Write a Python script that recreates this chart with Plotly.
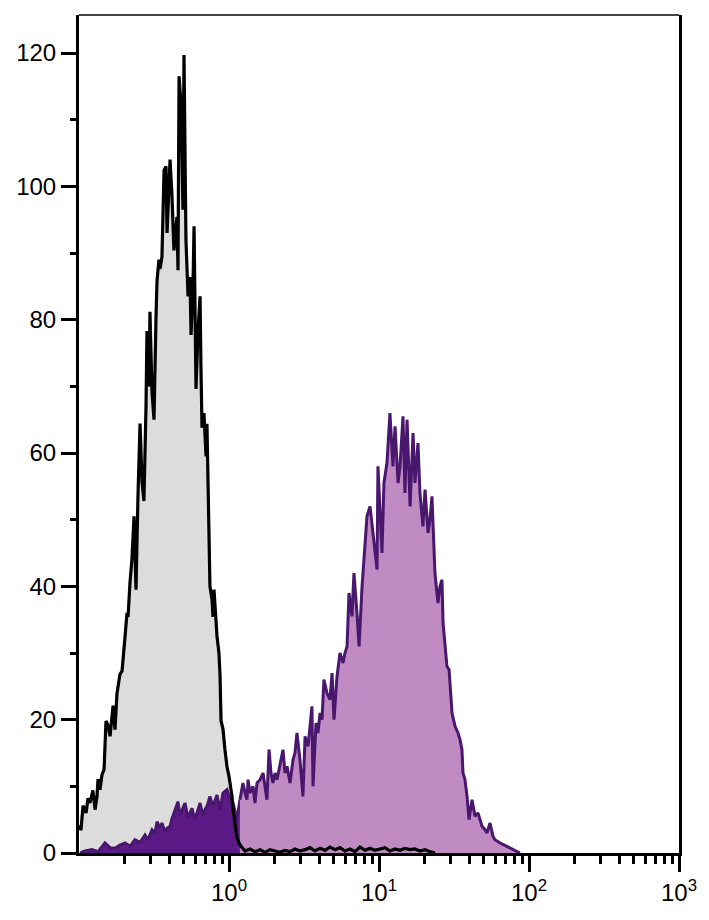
import numpy as np
import plotly.graph_objects as go

# ---- data (x in log10 decades, y = counts) ----
grey_logx = [-0.993, -0.987, -0.973, -0.953, -0.940, -0.927, -0.907, -0.893, -0.880, -0.873,
             -0.860, -0.847, -0.833, -0.827, -0.820, -0.807, -0.793, -0.773, -0.760, -0.747,
             -0.727, -0.713, -0.700, -0.693, -0.680, -0.673, -0.660, -0.647, -0.633, -0.620,
             -0.607, -0.593, -0.580, -0.567, -0.553, -0.547, -0.533, -0.527, -0.513, -0.500,
             -0.487, -0.480, -0.467, -0.460, -0.447, -0.433, -0.420, -0.413, -0.393, -0.380,
             -0.367, -0.347, -0.340, -0.333, -0.320, -0.307, -0.300, -0.287, -0.273, -0.260,
             -0.253, -0.240, -0.233, -0.220, -0.207, -0.193, -0.187, -0.180, -0.167, -0.160,
             -0.153, -0.147, -0.140, -0.133, -0.127, -0.113, -0.107, -0.100, -0.087, -0.080,
             -0.067, -0.060, -0.053, -0.040, -0.027, -0.013, 0.000, 0.007, 0.020, 0.027,
             0.040, 0.053, 0.067, 0.080,
             0.107, 0.140, 0.173, 0.207, 0.240, 0.273, 0.307, 0.340, 0.373, 0.407,
             0.440, 0.473, 0.507, 0.540, 0.573, 0.607, 0.640, 0.673, 0.707, 0.740,
             0.773, 0.807, 0.840, 0.873, 0.907, 0.940, 0.973, 1.007, 1.040, 1.073,
             1.107, 1.140, 1.173, 1.207, 1.240, 1.273, 1.307, 1.340, 1.373]
grey_counts = [4.2, 3.4, 7.1, 6.0, 8.2, 7.5, 9.4, 6.5, 8.5, 11.1,
               9.5, 11.7, 12.5, 15.7, 19.8, 19.2, 17.5, 22.1, 18.5, 23.9,
               26.8, 27.3, 30.0, 32.5, 36.0, 35.4, 40.6, 44.1, 50.5, 39.5,
               53.4, 64.4, 55.7, 52.8, 67.3, 78.3, 70.0, 81.2, 69.0, 65.0,
               80.0, 85.8, 89.0, 87.6, 89.4, 102.4, 103.0, 93.0, 104.0, 98.5,
               90.4, 95.4, 87.4, 116.5, 112.5, 96.5, 119.7, 92.0, 83.5, 86.4,
               77.7, 85.2, 94.0, 69.6, 78.0, 83.5, 73.0, 63.8, 66.0, 63.2,
               59.5, 64.4, 55.0, 46.0, 40.0, 38.0, 35.4, 39.5, 34.0, 32.5,
               30.0, 26.8, 19.8, 18.6, 15.5, 12.9, 11.5, 10.5, 8.5, 6.5,
               4.5, 2.4, 1.5, 1.0,
               0.3, 0.6, 0.2, 0.5, 0.1, 0.5, 0.3, 0.1, 0.4, 0.2,
               0.6, 0.3, 0.5, 0.8, 0.3, 0.7, 0.4, 0.9, 0.5, 0.8,
               0.3, 0.6, 0.2, 0.9, 0.4, 0.7, 0.4, 0.6, 0.8, 0.3,
               0.6, 0.4, 0.7, 0.5, 0.6, 0.3, 0.5, 0.2, 0.0]

purple_logx = [-0.993, -0.960, -0.913, -0.873, -0.827, -0.793, -0.760, -0.727, -0.693, -0.660,
               -0.627, -0.593, -0.560, -0.540, -0.513, -0.493, -0.480, -0.460, -0.447, -0.427,
               -0.413, -0.393, -0.380, -0.360, -0.340, -0.327, -0.313, -0.293, -0.273, -0.260,
               -0.247, -0.227, -0.213, -0.193, -0.173, -0.160, -0.147, -0.127, -0.107, -0.093,
               -0.080, -0.060, -0.040, -0.013, 0.007, 0.027, 0.053, 0.073,
               0.093, 0.107, 0.120, 0.127, 0.140, 0.160, 0.173, 0.187, 0.207, 0.227,
               0.240, 0.253, 0.267, 0.280, 0.293, 0.307, 0.320, 0.340, 0.360, 0.373,
               0.387, 0.407, 0.427, 0.440, 0.453, 0.473, 0.493, 0.507, 0.527, 0.540,
               0.553, 0.560, 0.580, 0.593, 0.607, 0.620, 0.633, 0.653, 0.673, 0.687,
               0.700, 0.720, 0.740, 0.760, 0.773, 0.787, 0.800, 0.820, 0.833, 0.853,
               0.867, 0.887, 0.907, 0.920, 0.940, 0.960, 0.973, 0.987, 0.993, 1.007,
               1.020, 1.033, 1.053, 1.073, 1.093, 1.107, 1.127, 1.140, 1.160, 1.173,
               1.187, 1.207, 1.227, 1.240, 1.260, 1.273, 1.293, 1.307, 1.327, 1.340,
               1.353, 1.373, 1.393, 1.407, 1.420, 1.427, 1.453, 1.467, 1.487, 1.507,
               1.527, 1.540, 1.553, 1.560, 1.573, 1.587, 1.600, 1.620, 1.640, 1.660,
               1.687, 1.707, 1.720, 1.740, 1.760, 1.773, 1.807, 1.853, 1.893, 1.940]
purple_counts = [0.0, 0.3, 0.5, 0.2, 1.5, 0.8, 0.7, 1.2, 1.5, 1.0,
                 2.0, 1.6, 2.7, 2.0, 3.5, 3.0, 4.7, 3.8, 4.5, 3.2,
                 3.7, 4.0, 5.2, 6.5, 7.7, 5.5, 6.5, 7.5, 5.2, 6.0,
                 6.7, 5.0, 6.0, 7.5, 5.5, 6.5, 7.0, 8.5, 7.0, 8.0,
                 8.7, 6.5, 9.0, 9.5, 8.0, 7.5, 5.0, 8.0,
                 10.5, 9.0, 8.0, 11.0, 9.0, 10.0, 7.5, 10.5, 11.0, 12.0,
                 10.0, 8.0, 15.5, 12.0, 10.5, 12.0, 11.0, 13.0, 15.5, 12.0,
                 13.0, 10.5, 14.0, 15.0, 18.0, 14.0, 8.5, 17.5, 16.0, 19.0,
                 22.0, 10.0, 19.5, 18.0, 21.0, 20.0, 26.0, 24.0, 23.0, 27.0,
                 20.0, 26.5, 30.0, 28.5, 30.0, 31.0, 39.0, 35.5, 42.0, 36.0,
                 31.0, 40.0, 46.5, 50.5, 52.0, 48.0, 45.0, 42.5, 58.0, 50.0,
                 45.0, 55.5, 58.5, 66.0, 58.0, 64.0, 55.5, 58.0, 65.5, 54.0,
                 65.0, 52.0, 63.0, 55.5, 61.5, 54.0, 49.0, 54.5, 48.0, 50.0,
                 53.5, 42.0, 37.5, 40.0, 41.0, 34.5, 28.0, 27.5, 21.0, 19.0,
                 18.0, 17.0, 15.5, 12.0, 11.0, 8.5, 5.0, 8.0, 5.5, 6.0,
                 4.0, 3.5, 3.0, 4.5, 2.5, 2.0, 1.5, 1.0, 0.5, 0.0]

x_tick_vals = [1, 10, 100, 1000]
x_tick_text = ["10<sup>0</sup>", "10<sup>1</sup>", "10<sup>2</sup>", "10<sup>3</sup>"]
y_tick_vals = [0, 20, 40, 60, 80, 100, 120]

# ---- build ----
gx = 10 ** np.array(grey_logx)
px = 10 ** np.array(purple_logx)
py = np.array(purple_counts)
split = purple_logx.index(0.073)

fig = go.Figure()
fig.add_trace(go.Scatter(x=gx, y=grey_counts, mode="lines", fill="tozeroy",
                         fillcolor="#dcdcdc", line=dict(width=0, color="#dcdcdc"),
                         hoverinfo="skip", showlegend=False))
fig.add_trace(go.Scatter(x=px[:split + 1], y=py[:split + 1], mode="lines", fill="tozeroy",
                         fillcolor="#5c1a86", line=dict(width=3, color="#4a176e"),
                         showlegend=False))
fig.add_trace(go.Scatter(x=px[split:], y=py[split:], mode="lines", fill="tozeroy",
                         fillcolor="#c08ac3", line=dict(width=3, color="#4a176e"),
                         showlegend=False))
fig.add_trace(go.Scatter(x=gx, y=grey_counts, mode="lines",
                         line=dict(width=3.2, color="black"), showlegend=False))

minor_x = [m * 10.0 ** d for d in (-1, 0, 1, 2) for m in range(2, 10)]

font = dict(family="Liberation Sans, Arial, sans-serif", size=24, color="black")
fig.update_layout(
    width=709, height=920,
    margin=dict(l=71, r=38, t=7, b=75),
    paper_bgcolor="white", plot_bgcolor="white",
    font=font,
    xaxis=dict(type="log", range=[-1, 3], showgrid=False, zeroline=False,
               showline=True, linecolor="black", linewidth=3,
               ticks="outside", ticklen=16, tickwidth=3, tickcolor="black",
               tickvals=x_tick_vals, ticktext=x_tick_text, tickfont=font,
               minor=dict(tickmode="array", tickvals=minor_x, ticks="outside",
                          ticklen=8, tickwidth=2.5, tickcolor="black", showgrid=False)),
    yaxis=dict(range=[0, 125.7], showgrid=False, zeroline=False,
               showline=True, linecolor="black", linewidth=3, mirror=True,
               ticks="outside", ticklen=15, tickwidth=3, tickcolor="black",
               tickvals=y_tick_vals, tickfont=font,
               minor=dict(dtick=10, ticks="outside", ticklen=6, tickwidth=3,
                          tickcolor="black", showgrid=False)),
    shapes=[dict(type="line", xref="paper", yref="paper", x0=0, x1=1, y0=1, y1=1,
                 line=dict(color="#444444", width=2))],
)

fig.write_html("out.html")
